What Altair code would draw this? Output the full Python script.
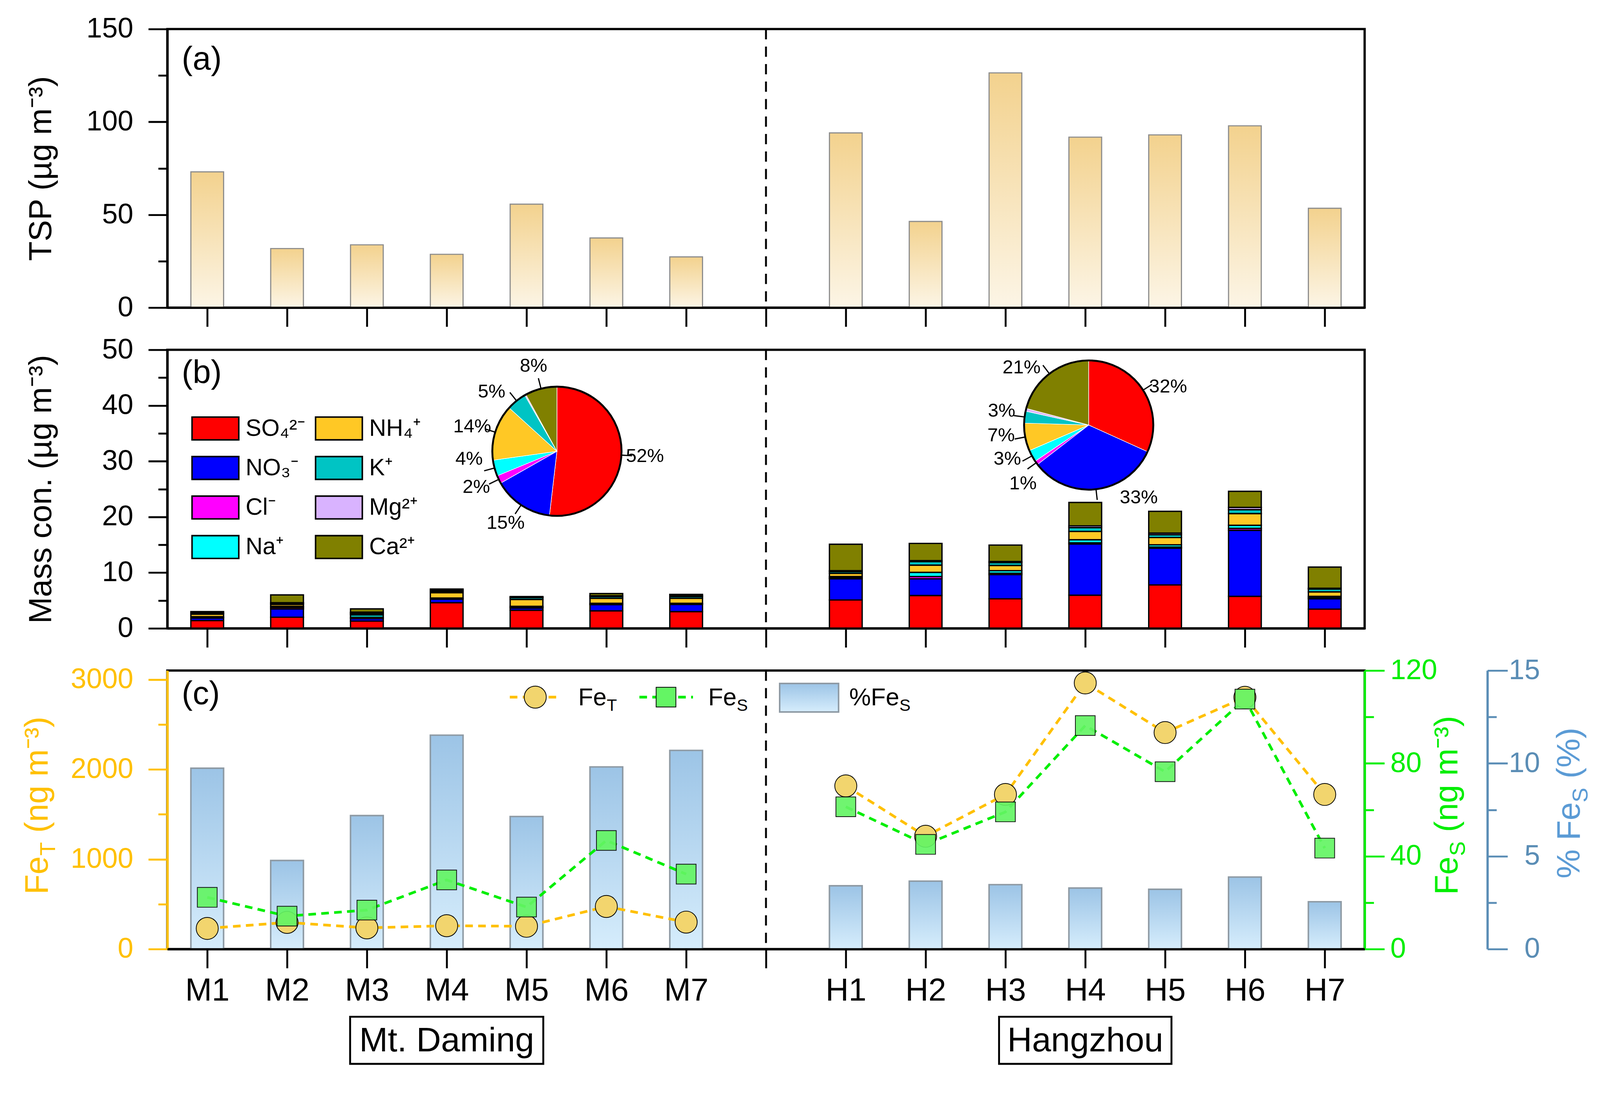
import json

import altair as alt
import pandas as pd

# samples and their slot on the x axis (slot 8 is the gap between the two sites)
SAMPLES = ["M1", "M2", "M3", "M4", "M5", "M6", "M7",
           "H1", "H2", "H3", "H4", "H5", "H6", "H7"]
POSITIONS = [1, 2, 3, 4, 5, 6, 7, 9, 10, 11, 12, 13, 14, 15]
DIVIDER = [8]
SITES = ["Mt. Daming", "Hangzhou"]
PANEL_TAGS = ["(a)", "(b)", "(c)"]

# (a) TSP, ug m-3
TSP = [73.1, 31.8, 33.8, 28.7, 55.7, 37.5, 27.3,
       94.1, 46.4, 126.4, 91.8, 93.0, 97.9, 53.5]

# (b) water soluble ions, ug m-3 (stacked bottom -> top in this order)
IONS = ["SO₄²⁻", "NO₃⁻", "Cl⁻", "Na⁺", "NH₄⁺", "K⁺", "Mg²⁺", "Ca²⁺"]
SO4 = [1.4, 2.0, 1.3, 4.6, 3.25, 3.15, 3.0, 5.1, 5.9, 5.3, 5.95, 7.8, 5.75, 3.45]
NO3 = [0.45, 1.5, 0.45, 0.65, 0.4, 1.1, 1.3, 3.8, 3.0, 4.35, 9.2, 6.6, 11.85, 1.85]
CL = [0.1, 0.25, 0.25, 0.1, 0.15, 0.1, 0.1, 0.15, 0.4, 0.25, 0.2, 0.2, 0.35, 0.2]
NA = [0.15, 0.2, 0.4, 0.1, 0.15, 0.15, 0.1, 0.25, 0.75, 0.45, 0.55, 0.4, 0.55, 0.25]
NH4 = [0.45, 0.35, 0.2, 0.95, 1.25, 0.9, 0.9, 0.55, 1.3, 0.95, 1.5, 1.3, 2.1, 0.8]
K = [0.15, 0.2, 0.15, 0.25, 0.3, 0.3, 0.3, 0.3, 0.65, 0.5, 0.7, 0.5, 0.7, 0.5]
MG = [0.1, 0.1, 0.15, 0.2, 0.1, 0.15, 0.15, 0.2, 0.15, 0.2, 0.3, 0.3, 0.4, 0.15]
CA = [0.2, 1.4, 0.6, 0.2, 0.1, 0.4, 0.25, 4.75, 3.1, 2.95, 4.2, 3.9, 2.9, 3.8]

# pie shares, %
PIE_MT = [52, 15, 2, 4, 14, 5, 0.3, 8]
PIE_HZ = [32, 33, 1, 3, 7, 3, 0.7, 21]
PIE_MT_LABELS = ["52%", "15%", "2%", "4%", "14%", "5%", "", "8%"]
PIE_HZ_LABELS = ["32%", "33%", "1%", "3%", "7%", "3%", "", "21%"]

# (c) iron
FE_T = [230, 297, 236, 260, 254, 474, 300,
        1816, 1256, 1721, 2962, 2410, 2802, 1721]
FE_S = [22.3, 14.2, 16.8, 29.8, 18.1, 46.8, 32.3,
        61.3, 45.1, 59.1, 96.3, 76.4, 107.7, 43.5]
PCT_FE_S = [9.74, 4.77, 7.19, 11.52, 7.14, 9.81, 10.7,
            3.41, 3.66, 3.47, 3.29, 3.22, 3.88, 2.55]

# ---- style
FONT = "Liberation Sans"
NARROW = "'Liberation Sans Narrow', 'Arial Narrow', 'Liberation Sans', sans-serif"
W, H = 3150, 733
BAR_HALF = 0.205
X_SCALE = alt.Scale(domain=[0.5, 15.5], nice=False, zero=False)
ION_COLORS = ["#ff0000", "#0000ff", "#ff00ff", "#00ffff",
              "#ffc825", "#00c4c4", "#d9b3ff", "#808000"]
GOLD, GREEN, STEEL, SKY = "#ffc000", "#00ee00", "#5a8db5", "#5b9bd5"
CIRCLE_FILL, SQUARE_FILL = "#f2d56e", "#64f564"
# angular nudge (degrees) of each pie label away from its slice middle
PIE_MT_NUDGE = [0, 2, 2, 10, -1, -9, 0, -1]
PIE_HZ_NUDGE = [7, -28, -6, 6, 4, 2, 0, -12]


def gradient(bottom, top):
    return alt.Gradient(gradient="linear",
                        stops=[alt.GradientStop(color=bottom, offset=0),
                               alt.GradientStop(color=top, offset=1)],
                        x1=0, x2=0, y1=1, y2=0)


GRAD_TSP = gradient("#fcf5e6", "#f3d28e")
GRAD_FE = gradient("#d6edfc", "#9cc4e6")

# x tick labels, indexed by slot
slot_labels = [""] * 16
for p, s in zip(POSITIONS, SAMPLES):
    slot_labels[p] = s
LABEL_EXPR = json.dumps(slot_labels) + "[datum.value]"
TICKS = sorted(POSITIONS + DIVIDER)


def x_axis(show_labels):
    return alt.Axis(values=TICKS, title=None, grid=False, labels=show_labels,
                    labelExpr=LABEL_EXPR, tickSize=50, tickWidth=5,
                    domainWidth=6, domainColor="black", tickColor="black",
                    labelPadding=19, labelFontSize=84, labelFont=NARROW,
                    labelFlush=False, labelColor="black", labelBaseline="top",
                    zindex=1)


def xq(field, show_labels):
    # every layer carries the same axis so the shared x axis merges cleanly
    return alt.X(f"{field}:Q", scale=X_SCALE, axis=x_axis(show_labels))


def y_axis(values, title=None, color="black", orient="left", offset=0,
           label_pad=40, label_align=None, tick=50):
    kw = dict(orient=orient, values=values, grid=False, tickSize=tick,
              tickWidth=5, domainWidth=6, domainColor=color, tickColor=color,
              labelColor=color, labelFontSize=74, labelPadding=label_pad,
              offset=offset, labelFont=FONT, format="d", labelLimit=400)
    if title:
        kw.update(title=title, titleX=-306, titleY=H / 2, titleAngle=270,
                  titleAlign="center", titleBaseline="alphabetic",
                  titleFontSize=84, titleFontWeight="normal",
                  titleColor=color, titleFont=FONT)
    else:
        kw["title"] = None
    if label_align:
        kw["labelAlign"] = label_align
    return alt.Axis(**kw)


df = pd.DataFrame({
    "sample": SAMPLES, "pos": POSITIONS,
    "site": [SITES[0] if s.startswith("M") else SITES[1] for s in SAMPLES],
    "tsp": TSP, "fet": FE_T, "fes": FE_S, "pfes": PCT_FE_S,
})


def minor_ticks(domain, values, color="black", orient="left", offset=0):
    # an invisible layer whose only job is an extra axis of short ticks
    return alt.Chart(pd.DataFrame({"v": values})).mark_point(opacity=0).encode(
        y=alt.Y("v:Q", scale=alt.Scale(domain=domain, nice=False),
                axis=alt.Axis(orient=orient, values=values, grid=False,
                              labels=False, domain=False, title=None,
                              tickSize=24, tickWidth=5, tickColor=color,
                              offset=offset)))


def txt(text, x, y, size, color="black", angle=0, align="left",
        baseline="alphabetic", font=FONT):
    return alt.Chart(pd.DataFrame({"t": [text]})).mark_text(
        align=align, baseline=baseline, fontSize=size, color=color,
        angle=angle, font=font).encode(
        x=alt.value(x), y=alt.value(y), text="t:N")


def divider(show_labels):
    return alt.Chart(pd.DataFrame({"pos": DIVIDER})).mark_rule(
        color="black", strokeWidth=5, strokeDash=[27, 19]).encode(
        x=xq("pos", show_labels))


bars_base = alt.Chart(df).transform_calculate(
    x0=f"datum.pos - {BAR_HALF}", x1=f"datum.pos + {BAR_HALF}")

# ---------------- (a) TSP
tsp_bars = bars_base.mark_bar(fill=GRAD_TSP, stroke="#8c8c8c", strokeWidth=3).encode(
    x=xq("x0", False), x2="x1:Q",
    y=alt.Y("tsp:Q", scale=alt.Scale(domain=[0, 150], nice=False),
            axis=y_axis([0, 50, 100, 150], "TSP (µg m⁻³)")),
    y2=alt.datum(0))

panel_a = alt.layer(
    tsp_bars, minor_ticks([0, 150], [25, 75, 125]), divider(False),
    txt(PANEL_TAGS[0], 38, 80, 86, baseline="middle"),
).resolve_scale(y="independent").properties(width=W, height=H)

# ---------------- (b) ions
rows = []
for i, (name, vals) in enumerate(zip(IONS, [SO4, NO3, CL, NA, NH4, K, MG, CA])):
    for p, v in zip(POSITIONS, vals):
        rows.append({"ion": name, "idx": i, "pos": p, "value": v})
df_ion = pd.DataFrame(rows)
ion_scale = alt.Scale(domain=IONS, range=ION_COLORS)

ion_bars = alt.Chart(df_ion).transform_stack(
    stack="value", groupby=["pos"], as_=["y0", "y1"],
    sort=[alt.SortField("idx", order="ascending")],
).transform_calculate(
    x0=f"datum.pos - {BAR_HALF}", x1=f"datum.pos + {BAR_HALF}",
).mark_bar(stroke="black", strokeWidth=3.5).encode(
    x=xq("x0", False), x2="x1:Q",
    y=alt.Y("y0:Q", scale=alt.Scale(domain=[0, 50], nice=False),
            axis=y_axis([0, 10, 20, 30, 40, 50], "Mass con. (µg m⁻³)")),
    y2="y1:Q",
    color=alt.Color("ion:N", scale=ion_scale, legend=None))

# legend, two columns of four
leg = pd.DataFrame({"ion": IONS, "idx": range(len(IONS))})
leg["col"] = leg["idx"] // 4
leg["row"] = leg["idx"] % 4
leg["lx0"] = 65 + 325 * leg["col"]
leg["lx1"] = leg["lx0"] + 123
leg["lyc"] = 207 + 104 * leg["row"]
leg["ly0"] = leg["lyc"] - 30
leg["ly1"] = leg["lyc"] + 30
leg["ltx"] = leg["lx0"] + 141

leg_boxes = alt.Chart(leg).mark_rect(stroke="black", strokeWidth=4).encode(
    x=alt.X("lx0:Q", scale=None), x2="lx1:Q",
    y=alt.Y("ly0:Q", scale=None), y2="ly1:Q",
    color=alt.Color("ion:N", scale=ion_scale, legend=None))
leg_text = alt.Chart(leg).mark_text(align="left", baseline="middle",
                                    fontSize=62).encode(
    x=alt.X("ltx:Q", scale=None), y=alt.Y("lyc:Q", scale=None), text="ion:N")

# pies
PIE_R = 170
PIE_CENTERS = [(1025, 267), (2424, 198)]
pie_rows = []
for site, (cx, cy), pcts, labels, nudges in zip(
        SITES, PIE_CENTERS, [PIE_MT, PIE_HZ], [PIE_MT_LABELS, PIE_HZ_LABELS],
        [PIE_MT_NUDGE, PIE_HZ_NUDGE]):
    for i, (ion, pct, lab, nd) in enumerate(zip(IONS, pcts, labels, nudges)):
        pie_rows.append(dict(site=site, ion=ion, idx=i, pct=pct, label=lab,
                             nudge=nd, cx=cx, cy=cy))
df_pie = pd.DataFrame(pie_rows)

pie_base = alt.Chart(df_pie).transform_joinaggregate(
    total="sum(pct)", groupby=["site"]
).transform_window(
    cum="sum(pct)", groupby=["site"], sort=[alt.SortField("idx")],
    frame=[None, 0]
).transform_calculate(
    t0="2 * PI * (datum.cum - datum.pct) / datum.total",
    t1="2 * PI * datum.cum / datum.total",
    tm="PI * (2 * datum.cum - datum.pct) / datum.total",
).transform_calculate(
    tm2="datum.tm + 0.004",
    la="datum.tm + datum.nudge * PI / 180",
)

pie_xy = dict(x=alt.X("cx:Q", scale=None), y=alt.Y("cy:Q", scale=None))
slices = pie_base.mark_arc(radius=PIE_R, stroke="white", strokeWidth=1.5).encode(
    theta=alt.Theta("t0:Q", scale=None, stack=False), theta2="t1:Q",
    color=alt.Color("ion:N", scale=ion_scale, legend=None), **pie_xy)
outline = alt.Chart(pd.DataFrame({"cx": [c[0] for c in PIE_CENTERS],
                                  "cy": [c[1] for c in PIE_CENTERS]})).mark_arc(
    radius=PIE_R, fillOpacity=0, stroke="black", strokeWidth=5).encode(
    theta=alt.value(0), theta2=alt.value(6.2832), **pie_xy)
leaders = pie_base.transform_filter("datum.label != ''").mark_arc(
    radius=PIE_R + 2, radius2=PIE_R + 27, stroke="black", strokeWidth=2.5).encode(
    theta=alt.Theta("tm:Q", scale=None, stack=False), theta2="tm2:Q", **pie_xy)
pie_labels = pie_base.transform_filter("datum.label != ''").mark_text(
    radius=PIE_R + 62, align="center", baseline="middle", fontSize=50).encode(
    theta=alt.Theta("la:Q", scale=None, stack=False), text="label:N", **pie_xy)

panel_b = alt.layer(
    ion_bars, minor_ticks([0, 50], [5, 15, 25, 35, 45]), divider(False),
    txt(PANEL_TAGS[1], 38, 62, 86, baseline="middle"),
    leg_boxes, leg_text, slices, outline, leaders, pie_labels,
).resolve_scale(y="independent").properties(width=W, height=H)

# ---------------- (c) iron
FET_SCALE = alt.Scale(domain=[0, 3100], nice=False)
FES_SCALE = alt.Scale(domain=[0, 120], nice=False)
PCT_SCALE = alt.Scale(domain=[0, 15], nice=False)

pct_bars = bars_base.mark_bar(fill=GRAD_FE, stroke="#8e9aa4", strokeWidth=4).encode(
    x=xq("x0", True), x2="x1:Q",
    y=alt.Y("pfes:Q", scale=PCT_SCALE,
            axis=y_axis([0, 5, 10, 15], color=STEEL, orient="right",
                        offset=323, label_pad=85, label_align="right", tick=53)),
    y2=alt.datum(0))
fet_line = alt.Chart(df).mark_line(color=GOLD, strokeWidth=7, strokeDash=[20, 14]).encode(
    x=xq("pos", True), detail="site:N",
    y=alt.Y("fet:Q", scale=FET_SCALE,
            axis=y_axis([0, 1000, 2000, 3000], color=GOLD)))
fet_pts = alt.Chart(df).mark_point(shape="circle", filled=True, size=3364,
                                   fill=CIRCLE_FILL, stroke="black",
                                   strokeWidth=2, opacity=1).encode(
    x=xq("pos", True), y=alt.Y("fet:Q", scale=FET_SCALE, axis=None))
fes_line = alt.Chart(df).mark_line(color=GREEN, strokeWidth=7, strokeDash=[20, 14]).encode(
    x=xq("pos", True), detail="site:N",
    y=alt.Y("fes:Q", scale=FES_SCALE,
            axis=y_axis([0, 40, 80, 120], color=GREEN, orient="right",
                        label_pad=15, tick=52)))
fes_pts = alt.Chart(df).mark_point(shape="square", filled=True, size=2704,
                                   fill=SQUARE_FILL, stroke="black",
                                   strokeWidth=2, opacity=0.92).encode(
    x=xq("pos", True), y=alt.Y("fes:Q", scale=FES_SCALE, axis=None))

# legend of (c)
one = pd.DataFrame({"k": [0]})
leg_c = [
    alt.Chart(one).mark_rule(color=GOLD, strokeWidth=7, strokeDash=[20, 14]).encode(
        x=alt.value(901), x2=alt.value(1035), y=alt.value(70)),
    alt.Chart(one).mark_point(shape="circle", filled=True, size=3364,
                              fill=CIRCLE_FILL, stroke="black", strokeWidth=2,
                              opacity=1).encode(x=alt.value(968), y=alt.value(70)),
    txt("Fe", 1081, 92, 64), txt("T", 1156, 106, 44),
    alt.Chart(one).mark_rule(color=GREEN, strokeWidth=7, strokeDash=[20, 14]).encode(
        x=alt.value(1242), x2=alt.value(1383), y=alt.value(70)),
    alt.Chart(one).mark_point(shape="square", filled=True, size=2704,
                              fill=SQUARE_FILL, stroke="black", strokeWidth=2,
                              opacity=1).encode(x=alt.value(1312), y=alt.value(70)),
    txt("Fe", 1423, 92, 64), txt("S", 1498, 106, 44),
    alt.Chart(one).mark_rect(fill=GRAD_FE, stroke="#8e9aa4", strokeWidth=4).encode(
        x=alt.value(1611), x2=alt.value(1766), y=alt.value(34), y2=alt.value(109)),
    txt("%Fe", 1794, 92, 64), txt("S", 1926, 106, 44),
]

# rotated axis titles with subscripts
titles_c = [
    txt("Fe", -315, 589, 86, GOLD, angle=270),
    txt("T", -295, 487, 58, GOLD, angle=270),
    txt("(ng m⁻³)", -315, 427, 86, GOLD, angle=270),
    txt("Fe", 3394, 590, 86, GREEN, angle=270),
    txt("S", 3414, 488, 58, GREEN, angle=270),
    txt("(ng m⁻³)", 3394, 425, 86, GREEN, angle=270),
    txt("% Fe", 3716, 547, 86, SKY, angle=270),
    txt("S", 3736, 347, 58, SKY, angle=270),
    txt("(%)", 3716, 284, 86, SKY, angle=270),
]

# site name boxes under the axis
BOX_HALF = [1.21, 1.08]
centers = [sum(POSITIONS[:7]) / 7, sum(POSITIONS[7:]) / 7]
df_site = pd.DataFrame({"site": SITES, "center": centers, "half": BOX_HALF})
site_boxes = alt.Chart(df_site).transform_calculate(
    bx0="datum.center - datum.half", bx1="datum.center + datum.half"
).mark_rect(fillOpacity=0, stroke="black", strokeWidth=5).encode(
    x=xq("bx0", True), x2="bx1:Q",
    y=alt.value(911), y2=alt.value(1035))
site_text = alt.Chart(df_site).mark_text(fontSize=90, baseline="middle").encode(
    x=xq("center", True), y=alt.value(975), text="site:N")

panel_c = alt.layer(
    pct_bars,
    minor_ticks([0, 15], [2.5, 7.5, 12.5], STEEL, "right", 323),
    fet_line, minor_ticks([0, 3100], [500, 1500, 2500], GOLD),
    fes_line, minor_ticks([0, 120], [20, 60, 100], GREEN, "right"),
    fet_pts, fes_pts, divider(True),
    txt(PANEL_TAGS[2], 38, 63, 86, baseline="middle"),
    *leg_c, *titles_c, site_boxes, site_text,
).resolve_scale(y="independent").properties(width=W, height=H)

chart = alt.vconcat(panel_a, panel_b, panel_c, spacing=111, bounds="flush").properties(
    padding={"left": 45, "top": -10, "right": 10, "bottom": 0}
).configure(font=FONT).configure_view(stroke="black", strokeWidth=6)

chart.save("out.html", embed_options={"renderer": "svg", "actions": False})
